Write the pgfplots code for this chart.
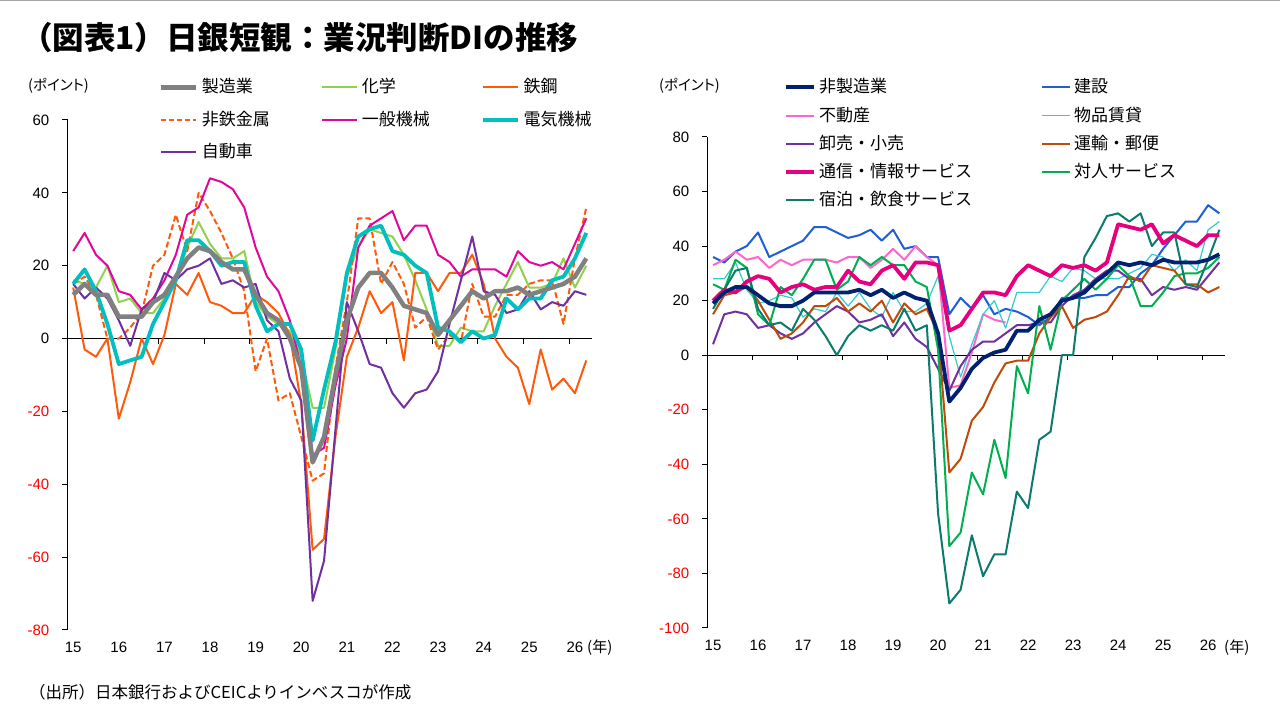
\documentclass[border=0pt]{standalone}
\usepackage{fontspec}
\usepackage{pgfplots}
\usepackage{pgfplotstable}
\pgfplotsset{compat=1.18}
\setmainfont{Liberation Sans}
\newfontfamily\jp{Noto Sans CJK JP}
\newfontfamily\jpp[RawFeature=+palt]{Noto Sans CJK JP}

\definecolor{cMfg}{HTML}{808080}
\definecolor{cChem}{HTML}{92D050}
\definecolor{cSteel}{HTML}{FF5A0A}
\definecolor{cGmach}{HTML}{E0089C}
\definecolor{cElec}{HTML}{00BFBF}
\definecolor{cAuto}{HTML}{7030A0}
\definecolor{cNonmfg}{HTML}{002070}
\definecolor{cConstr}{HTML}{1F5FD6}
\definecolor{cReal}{HTML}{FF66CC}
\definecolor{cRental}{HTML}{33CCCC}
\definecolor{cWhole}{HTML}{7030A0}
\definecolor{cTransp}{HTML}{C04A0A}
\definecolor{cICT}{HTML}{E6007E}
\definecolor{cPers}{HTML}{00B050}
\definecolor{cHotel}{HTML}{0C7B6E}

\tikzset{zeroline/.style={black, line width=1pt}}

% Tankan business conditions DI, quarterly from 2015 Q1 (k = 0)
\pgfplotstableread{
k  mfg chem steel nonfer gmach elec auto
0   12  16   14   15   24   15   15
1   15  15   -3   17   29   19   11
2   12  14   -5   12   23   13   14
3   12  20    0    0   20    4   11
4    6  10  -22    0   13   -7    5
5    6  11  -12    3   12   -6   -2
6    6   7    0    7    8   -5    8
7   10   7   -7   20   11    4   10
8   12  11    1   23   16   10   18
9   17  16   15   34   23   16   16
10  22  25   12   24   34   27   19
11  25  32   18   40   36   27   20
12  24  26   10   35   44   24   22
13  21  22    9   29   43   20   15
14  19  22    7   22   41   21   16
15  19  24    7   13   36   21   14
16  12  10   12   -9   25    9   15
17   7   6   10    0   17    2    5
18   5   4    7  -17   13    4    2
19   0   2    1  -15    5    4  -11
20  -8  -5  -18  -27   -8   -3  -17
21 -34 -19  -58  -39  -32  -28  -72
22 -27 -19  -55  -37  -30  -14  -61
23 -10  -3  -27   -8  -13   -1  -25
24   5  17   -5   10    0   18   10
25  14  25    3   33   25   28    2
26  18  30   13   33   31   30   -7
27  18  29    7   15   33   31   -8
28  14  28   10   21   35   24  -15
29   9  23   -6   15   27   23  -19
30   8  16   18    3   31   20  -15
31   7   8   18    6   31   18  -14
32   1  -2   13   -3   23    3   -9
33   5  -2   18    1   21    2    4
34   9   3   18   -1   17   -1   16
35  13   2   23   15   19    2   28
36  11   2   15    6   19    0   13
37  13   9    0    6   19    1   12
38  13  15   -5   12   17   11    7
39  14  21   -8   12   24    8    8
40  12  14  -18   15   21   11   13
41  13  14   -3   16   20   11    8
42  14  15  -14   16   21   16   10
43  15  22  -11    4   19   17    9
44  17  14  -15   22   26   22   13
45  22  20   -6   36   33   29   12
}\mfgdata

\pgfplotstableread{
k  nonmfg constr real rental whole transp ict pers hotel
0   19  36   33   28    4   15   20   26   17
1   23  34   35   28   15   22   24   24   24
2   25  38   38   34   16   23   23   35   31
3   25  40   35   24   15   25   27   32   32
4   22  45   36   19   10   20   29   15   17
5   19  36   32   20   11   13   28   11   11
6   18  38   35   22    8    6   23   25   12
7   18  40   33   21    6    8   25   22    9
8   20  42   35   14    8   12   26   28   17
9   23  47   35   17   12   18   24   35   13
10  23  47   35   16   15   18   25   35    7
11  23  45   34   23   18   21   25   24    0
12  23  43   36   18   16   16   31   27    7
13  24  44   36   23   12   19   27   36   11
14  22  46   32   17   13   16   26   33    9
15  24  42   35   14   15   20   31   36   11
16  21  46   39   23    7   12   33   33    9
17  23  39   35   16   12   19   28   33   17
18  21  40   40   16    6   15   34   27    9
19  20  36   36   19    3   17   34   25   11
20   8  36   33   29   -5    8   33    2  -58
21 -17  15  -12    7  -13  -43    9  -70  -91
22 -12  21  -11   -8   -4  -38   11  -65  -86
23  -5  17    1    4    2  -24   17  -43  -66
24  -1  22   15   15    5  -19   23  -51  -81
25   1  15   13   20    5  -10   23  -31  -73
26   2  17   12   10    8   -3   22  -45  -73
27   9  16  nan   23   11   -2   29   -4  -50
28   9  14  nan   23   11   -2   33  -14  -56
29  13  11  nan   23   12    8   31   18  -31
30  15  14  nan   29   12   14   29    2  -28
31  20  21  nan   27   18   18   33   20    0
32  21  21  nan   32   22   10   32   24    0
33  23  21  nan   31   24   13   33   28   36
34  27  22  nan   28   28   14   31   24   43
35  30  22  nan   28   31   16   34   28   51
36  34  25  nan   28   31   22   48   33   52
37  33  25  nan   30   28   29   47   29   49
38  34  30  nan   32   28   27   46   18   52
39  33  33  nan   37   22   33   48   18   40
40  35  39  nan   36   25   32   41   23   45
41  34  44  nan   31   24   31   44   29   45
42  34  49  nan   35   25   26   42   30   26
43  34  49  nan   31   24   26   40   30   25
44  35  55  nan   46   29   23   44   32   35
45  37  52  nan   49   34   25   44   36   46
}\nonmfgdata

\pgfplotsset{
  dichart/.style={
    scale only axis,
    xmin=-0.5, xmax=45.5,
    axis lines*=left,
    x axis line style={draw=none},
    y axis line style={black, line width=1pt},
    xtick={0,4,...,44},
    xticklabels={15,16,17,18,19,20,21,22,23,24,25,26},
    xtick style={draw=none},
    ytick align=outside,
    ytick style={black, line width=1pt},
    major tick length=5pt,
    ticklabel style={font=\fontsize{15}{15}\selectfont, inner sep=0pt},
    xticklabel style={anchor=north, yshift=-12pt},
    yticklabel style={anchor=east, xshift=-13pt},
    unbounded coords=jump,
    every axis plot/.append style={mark=none, line join=round},
    legend cell align=left,
  },
}

\begin{document}
\begin{tikzpicture}[x=1pt, y=1pt]
\fill[white] (0,0) rectangle (1280,720);
\path[use as bounding box] (0,0) rectangle (1280,720);
\draw[gray!70, line width=1.5pt] (0,719.3) -- (1280,719.3);

\node[anchor=west, inner sep=0pt, font=\jp\bfseries\fontsize{31.5}{31.5}\selectfont] at (21,682) {（図表1）日銀短観：業況判断DIの推移};
\node[anchor=west, inner sep=0pt, font=\jp\fontsize{16.5}{16.5}\selectfont] at (29,28) {（出所）日本銀行およびCEICよりインベスコが作成};

\node[anchor=west, inner sep=0pt, font=\jpp\fontsize{14.5}{14.5}\selectfont] at (28,634) {(ポイント)};
\node[anchor=west, inner sep=0pt, font=\jpp\fontsize{14.5}{14.5}\selectfont] at (659,634) {(ポイント)};
\node[anchor=west, inner sep=0pt, font=\jp\fontsize{15}{15}\selectfont] at (587,72) {(年)};
\node[anchor=west, inner sep=0pt, font=\jp\fontsize{15}{15}\selectfont] at (1224,72) {(年)};

% Manufacturing
\begin{scope}[shift={(67.5pt,90pt)}]
\begin{axis}[dichart, at={(0pt,0pt)}, anchor=south west,
  width=524.5pt, height=510pt,
  ymin=-80, ymax=60, ytick={-80,-60,...,60},
  yticklabels={\textcolor{red}{-80},\textcolor{red}{-60},\textcolor{red}{-40},\textcolor{red}{-20},0,20,40,60},
  legend image code/.code={\draw[#1] (0pt,0pt) -- (35pt,0pt);},
  legend columns=3,
  legend style={draw=none, fill=none, at={(0.173,1.081)}, anchor=north west,
    font=\jp\fontsize{17}{17}\selectfont, inner sep=0pt, row sep=15.5pt,
    nodes={inner sep=0pt, text height=14pt, text depth=3pt},
    /tikz/every odd column/.append style={column sep=4pt},
    /tikz/every even column/.append style={column sep=51pt}},
]
\draw[zeroline] (axis cs:-0.5,0) -- (axis cs:45.5,0);
\pgfplotsinvokeforeach{3.5,7.5,11.5,15.5,19.5,23.5,27.5,31.5,35.5,39.5,43.5}{
  \draw[zeroline] (axis cs:#1,0) -- ++(0pt,-5pt);
}
\addlegendimage{cMfg, line width=4.5pt}\addlegendentry{製造業}
\addlegendimage{cChem, line width=2pt}\addlegendentry{化学}
\addlegendimage{cSteel, line width=2pt}\addlegendentry{鉄鋼}
\addlegendimage{cSteel, line width=2pt, dash pattern=on 5pt off 3pt}\addlegendentry{非鉄金属}
\addlegendimage{cGmach, line width=2pt}\addlegendentry{一般機械}
\addlegendimage{cElec, line width=3.8pt}\addlegendentry{電気機械}
\addlegendimage{cAuto, line width=2pt}\addlegendentry{自動車}

\addplot[forget plot, cChem, line width=2pt] table[x=k, y=chem] {\mfgdata};
\addplot[forget plot, cSteel, line width=2pt] table[x=k, y=steel] {\mfgdata};
\addplot[forget plot, cSteel, line width=2pt, dash pattern=on 6pt off 3pt] table[x=k, y=nonfer] {\mfgdata};
\addplot[forget plot, cGmach, line width=2pt] table[x=k, y=gmach] {\mfgdata};
\addplot[forget plot, cAuto, line width=2pt] table[x=k, y=auto] {\mfgdata};
\addplot[forget plot, cElec, line width=3.8pt] table[x=k, y=elec] {\mfgdata};
\addplot[forget plot, cMfg, line width=4.5pt] table[x=k, y=mfg] {\mfgdata};
\end{axis}
\end{scope}

% Non-manufacturing
\begin{scope}[shift={(707.4pt,92pt)}]
\begin{axis}[dichart, at={(0pt,0pt)}, anchor=south west,
  width=517.6pt, height=491pt,
  ymin=-100, ymax=80, ytick={-100,-80,...,80},
  yticklabels={\textcolor{red}{-100},\textcolor{red}{-80},\textcolor{red}{-60},\textcolor{red}{-40},\textcolor{red}{-20},0,20,40,60,80},
  legend image code/.code={\draw[#1] (0pt,0pt) -- (28pt,0pt);},
  legend columns=2,
  legend style={draw=none, fill=none, at={(0.148,1.119)}, anchor=north west,
    font=\jp\fontsize{17}{17}\selectfont, inner sep=0pt, row sep=11.3pt,
    nodes={inner sep=0pt, text height=14pt, text depth=3pt},
    /tikz/every odd column/.append style={column sep=3pt},
    /tikz/every even column/.append style={column sep=69pt}},
]
\draw[zeroline] (axis cs:-0.5,0) -- (axis cs:45.5,0);
\pgfplotsinvokeforeach{3.5,7.5,11.5,15.5,19.5,23.5,27.5,31.5,35.5,39.5,43.5}{
  \draw[zeroline] (axis cs:#1,0) -- ++(0pt,-5pt);
}
\addlegendimage{cNonmfg, line width=3.8pt}\addlegendentry{非製造業}
\addlegendimage{cConstr, line width=2pt}\addlegendentry{建設}
\addlegendimage{cReal, line width=2pt}\addlegendentry{不動産}
\addlegendimage{cRental, line width=1.2pt}\addlegendentry{物品賃貸}
\addlegendimage{cWhole, line width=2pt}\addlegendentry{卸売・小売}
\addlegendimage{cTransp, line width=2pt}\addlegendentry{運輸・郵便}
\addlegendimage{cICT, line width=3.8pt}\addlegendentry{通信・情報サービス}
\addlegendimage{cPers, line width=2pt}\addlegendentry{対人サービス}
\addlegendimage{cHotel, line width=2pt}\addlegendentry{宿泊・飲食サービス}

\addplot[forget plot, cConstr, line width=2pt] table[x=k, y=constr] {\nonmfgdata};
\addplot[forget plot, cReal, line width=2pt] table[x=k, y=real] {\nonmfgdata};
\addplot[forget plot, cRental, line width=1.2pt] table[x=k, y=rental] {\nonmfgdata};
\addplot[forget plot, cWhole, line width=2pt] table[x=k, y=whole] {\nonmfgdata};
\addplot[forget plot, cTransp, line width=2pt] table[x=k, y=transp] {\nonmfgdata};
\addplot[forget plot, cPers, line width=2pt] table[x=k, y=pers] {\nonmfgdata};
\addplot[forget plot, cHotel, line width=2pt] table[x=k, y=hotel] {\nonmfgdata};
\addplot[forget plot, cICT, line width=3.8pt] table[x=k, y=ict] {\nonmfgdata};
\addplot[forget plot, cNonmfg, line width=3.8pt] table[x=k, y=nonmfg] {\nonmfgdata};
\end{axis}
\end{scope}
\end{tikzpicture}
\end{document}
